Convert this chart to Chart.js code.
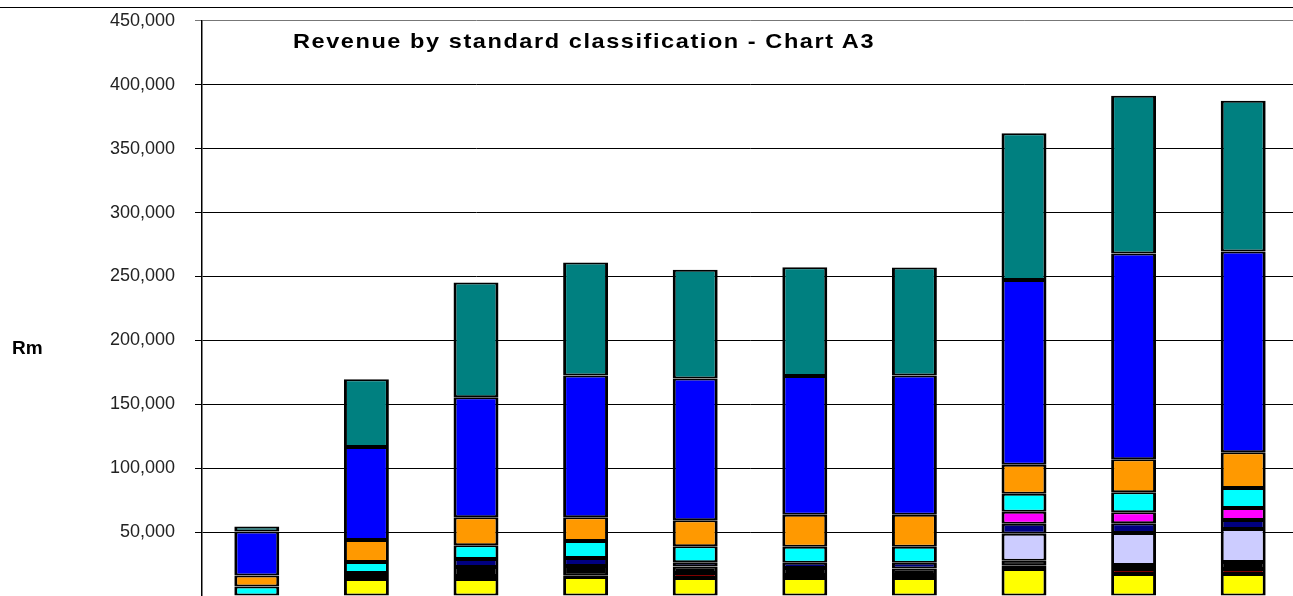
<!DOCTYPE html>
<html>
<head>
<meta charset="utf-8">
<script src="https://cdn.jsdelivr.net/npm/chart.js@4"></script>
<style>
  html, body { margin: 0; padding: 0; background: #fff; overflow: hidden; }
  #frame { position: absolute; left: 0; top: 7px; width: 1293px; border-top: 1px solid #000; }
  #wrap { position: absolute; left: 0; top: -10px; width: 1300px; height: 650px; }
  #title {
    position: absolute; left: 293px; top: 29px; line-height: 1;
    font: bold 21px Arial, "Liberation Sans", sans-serif; color: #000;
    letter-spacing: 1.4px; white-space: nowrap;
    transform: scaleX(1.12); transform-origin: left top;
  }
  #unit {
    position: absolute; left: 12px; top: 337px; line-height: 1;
    font: bold 19px Arial, "Liberation Sans", sans-serif; color: #000;
  }
</style>
</head>
<body>
<div id="frame"></div>
<div id="wrap"><canvas id="chart"></canvas></div>
<div id="title">Revenue by standard classification - Chart A3</div>
<div id="unit">Rm</div>
<script>
// categories (x labels fall below the visible picture)
const categories = ['1', '2', '3', '4', '5', '6', '7', '8', '9', '10'];

// y axis ticks
const yMax = 450000;
const yStep = 50000;

// stacked series, bottom to top (Rm)
const yellowValues   = [null, 13300, 13300, 14800, 14000, 14000, 14000, 21100, 17200, 17200];
const darkRedValues  = [null, 1500, 2300, 1000, 4000, 2500, 2500, 3000, 3900, 3900];
const blackValues    = [null, 3200, 7000, 7600, 5000, 5500, 5000, 3500, 3100, 5500];
const lavenderValues = [null, null, null, null, null, null, null, 21100, 25000, 25800];
const navyValues     = [null, null, 6300, 6250, 3500, 4000, 4500, 7800, 7800, 7000];
const magentaValues  = [null, null, null, null, null, null, null, 9400, 8600, 9400];
const cyanValues     = [7500, 8600, 10900, 13300, 12500, 12500, 12500, 14100, 15600, 15600];
const orangeValues   = [8600, 17200, 21900, 18750, 20300, 25000, 25000, 22700, 25800, 28100];
const blueValues     = [34400, 72700, 93800, 110900, 110900, 108600, 109000, 144500, 160900, 157000];
const tealValues     = [3900, 53100, 89800, 88300, 85000, 85000, 84500, 114800, 123400, 118000];

const seriesList = [
    [yellowValues, '#FFFF00'],
    [darkRedValues, '#800000'],
    [blackValues, '#000000'],
    [lavenderValues, '#CCCCFF'],
    [navyValues, '#000080'],
    [magentaValues, '#FF00FF'],
    [cyanValues, '#00FFFF'],
    [orangeValues, '#FF9900'],
    [blueValues, '#0000FF'],
    [tealValues, '#008080']
];

const datasets = seriesList.map(([values, colour]) => ({
    data: values,
    backgroundColor: colour,
    borderColor: '#000',
    borderWidth: { left: 3, right: 3, top: 2, bottom: 2 },
    borderSkipped: false,
    barPercentage: 0.41,
    categoryPercentage: 1
}));

new Chart(document.getElementById('chart'), {
    type: 'bar',
    data: { labels: categories, datasets: datasets },
    options: {
        responsive: true,
        maintainAspectRatio: false,
        animation: false,
        layout: { padding: { top: 10, right: 2, left: 0, bottom: 0 } },
        plugins: {
            legend: { display: false },
            tooltip: { enabled: false }
        },
        scales: {
            x: {
                stacked: true,
                grid: { display: false },
                border: { display: true, color: '#000', width: 1 },
                ticks: { display: false },
                afterFit: (scale) => { scale.height = 44; }
            },
            y: {
                stacked: true,
                min: 0,
                max: yMax,
                afterFit: (scale) => { scale.width = 202; },
                border: { display: true, color: '#000', width: 1.5 },
                grid: {
                    color: (ctx) => ctx.tick && ctx.tick.value === yMax ? '#777' : '#000',
                    lineWidth: 1,
                    tickLength: 7
                },
                ticks: {
                    stepSize: yStep,
                    padding: 20,
                    color: '#222',
                    font: { family: 'Arial, "Liberation Sans", sans-serif', size: 18 },
                    callback: (v) => v === 0 ? '' : v.toLocaleString('en-US')
                }
            }
        }
    }
});
</script>
</body>
</html>
